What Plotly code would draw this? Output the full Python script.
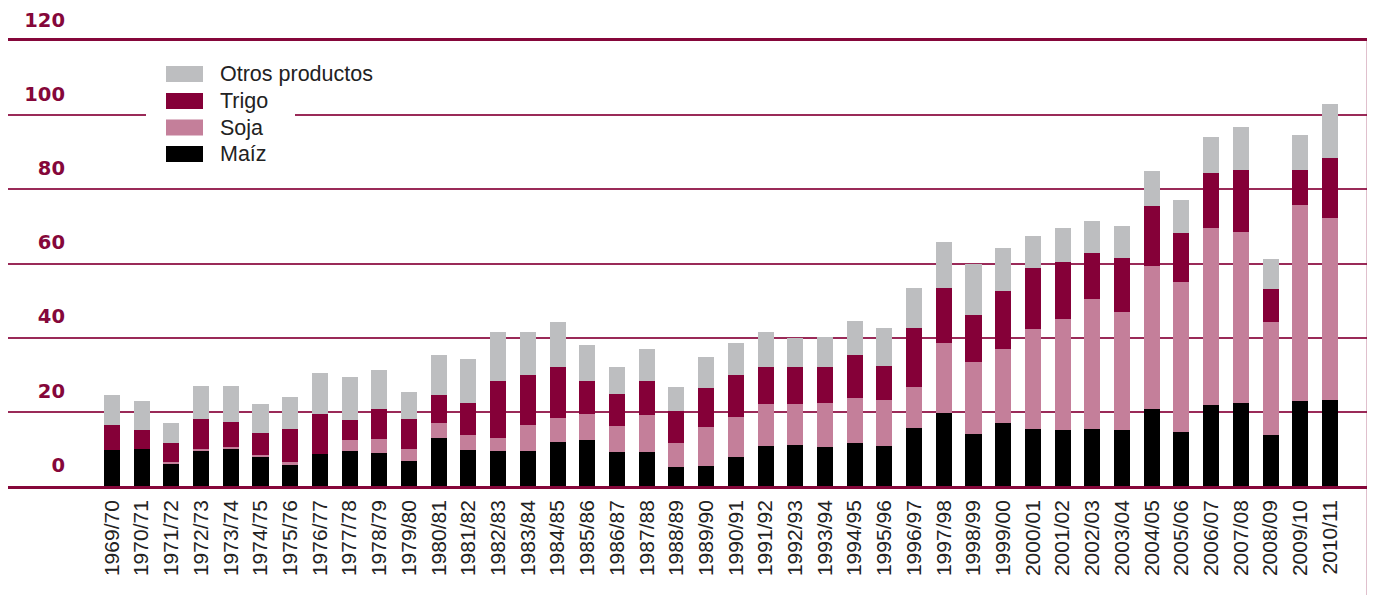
import plotly.graph_objects as go

campanias = ["1969/70", "1970/71", "1971/72", "1972/73", "1973/74", "1974/75", "1975/76",
             "1976/77", "1977/78", "1978/79", "1979/80", "1980/81", "1981/82", "1982/83",
             "1983/84", "1984/85", "1985/86", "1986/87", "1987/88", "1988/89", "1989/90",
             "1990/91", "1991/92", "1992/93", "1993/94", "1994/95", "1995/96", "1996/97",
             "1997/98", "1998/99", "1999/00", "2000/01", "2001/02", "2002/03", "2003/04",
             "2004/05", "2005/06", "2006/07", "2007/08", "2008/09", "2009/10", "2010/11"]

maiz = [9.7, 10.0, 5.9, 9.7, 10.0, 7.8, 5.7, 8.6, 9.5, 8.9, 6.8, 13.0, 9.7, 9.5, 9.5, 11.9,
        12.4, 9.2, 9.2, 5.1, 5.4, 7.8, 10.8, 11.1, 10.5, 11.6, 10.8, 15.7, 19.7, 14.1, 17.0,
        15.4, 15.1, 15.4, 15.1, 20.8, 14.6, 21.9, 22.4, 13.8, 23.0, 23.2]
soja = [0.0, 0.0, 0.6, 0.3, 0.5, 0.6, 0.8, 0.0, 2.9, 3.8, 3.2, 4.0, 4.1, 3.5, 7.0, 6.5,
        7.1, 7.0, 10.0, 6.5, 10.5, 10.8, 11.4, 11.1, 11.9, 12.2, 12.4, 11.1, 18.9, 19.4, 20.0,
        27.0, 30.0, 34.9, 31.7, 38.4, 40.5, 47.8, 46.2, 30.5, 52.9, 49.2]
trigo = [6.8, 5.1, 5.1, 8.1, 6.8, 5.9, 8.9, 10.9, 5.4, 8.1, 8.1, 7.6, 8.6, 15.4, 13.5, 13.8,
         8.9, 8.7, 9.2, 8.7, 10.6, 11.4, 10.0, 10.0, 9.8, 11.6, 9.2, 15.9, 14.9, 12.7, 15.7,
         16.5, 15.2, 12.4, 14.8, 16.2, 13.0, 14.6, 16.5, 8.7, 9.2, 16.0]
otros = [8.1, 7.9, 5.4, 8.9, 9.7, 7.9, 8.7, 11.0, 11.7, 10.6, 7.3, 10.8, 11.9, 13.0, 11.4, 12.1,
         9.7, 7.3, 8.6, 6.5, 8.4, 8.6, 9.2, 7.8, 8.1, 9.2, 10.3, 10.8, 12.4, 13.8, 11.6,
         8.4, 9.2, 8.7, 8.4, 9.5, 8.9, 9.8, 11.7, 8.1, 9.5, 14.6]

y_ticks = [0, 20, 40, 60, 80, 100, 120]

series = [
    ("Maíz", maiz, "#000000"),
    ("Soja", soja, "#c47f9a"),
    ("Trigo", trigo, "#850038"),
    ("Otros productos", otros, "#bdbec0"),
]

CRIMSON = "#85073a"
GRID = "#9a2a58"

# the page body adds an 8px offset; the figure is sized so it fills the window
OFF = 8
W, H = 1375 - OFF, 595 - OFF
ML, MR, MT, MB = 0, 7, 33, 109
PW = W - ML - MR
PH = H - MT - MB

fig = go.Figure()
for name, vals, color in series:
    fig.add_trace(go.Bar(
        x=campanias, y=vals, name=name, width=0.54,
        marker=dict(color=color, line=dict(width=0)),
        showlegend=False,
    ))

def px_x(p):
    # p in window pixels
    return (p - OFF - ML) / PW

def px_y(p):
    return (H - MB - (p - OFF)) / PH

shapes = []
annotations = []

# right frame line extending below the axis
shapes.append(dict(type="line", xref="paper", yref="paper", x0=1, x1=1,
                   y0=1.0, y1=px_y(597), line=dict(color=CRIMSON, width=2.5),
                   layer="above"))

# manual legend (white box interrupts the gridline)
shapes.append(dict(type="rect", xref="paper", yref="paper",
                   x0=px_x(146), x1=px_x(295), y0=px_y(168), y1=px_y(58),
                   fillcolor="white", line=dict(width=0), layer="above"))
row_centers = [74, 101, 127.5, 154]
for (name, vals, color), yc in zip(reversed(series), row_centers):
    shapes.append(dict(type="rect", xref="paper", yref="paper",
                       x0=px_x(166), x1=px_x(203), y0=px_y(yc + 8), y1=px_y(yc - 8),
                       fillcolor=color, line=dict(width=0), layer="above"))
    annotations.append(dict(xref="paper", yref="paper", x=px_x(218), y=px_y(yc),
                            xanchor="left", yanchor="middle", showarrow=False,
                            text=name,
                            font=dict(family="Liberation Sans", size=21.5, color="#222222")))

fig.update_layout(
    template="none",
    width=W, height=H,
    margin=dict(l=ML, r=MR, t=MT, b=MB, pad=0),
    paper_bgcolor="white", plot_bgcolor="white",
    barmode="stack",
    showlegend=False,
    shapes=shapes,
    annotations=annotations,
    xaxis=dict(
        type="category", range=[-3.5, 42.28], automargin=False,
        tickangle=-90, ticks="", showgrid=False, zeroline=False,
        showline=True, mirror=True, linecolor=CRIMSON, linewidth=2.5,
        tickfont=dict(family="Liberation Sans", size=21, color="#222222"),
        ticklabelstandoff=3,
    ),
    yaxis=dict(
        range=[0, 120], tickvals=y_ticks, automargin=False,
        anchor="free", position=px_x(65), side="left",
        ticks="", showline=False, zeroline=False,
        showgrid=True, gridcolor=GRID, gridwidth=1.6,
        tickfont=dict(family="DejaVu Sans", size=19.5, color=CRIMSON, weight="bold"),
        ticklabelshift=-21, ticklabelstandoff=0,
    ),
)

fig.write_html("out.html")
